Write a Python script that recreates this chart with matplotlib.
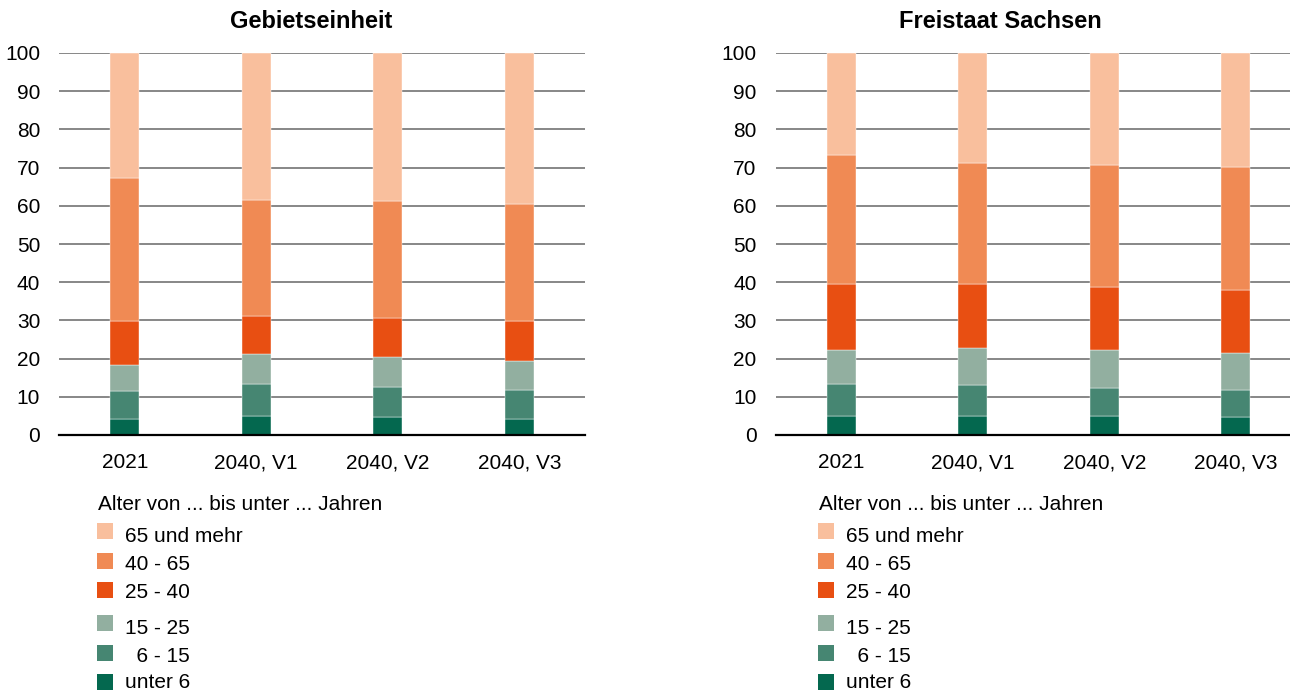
"""
Altersstruktur: Gebietseinheit vs. Freistaat Sachsen (gestapelte Säulen, Prozent)
"""
import matplotlib.pyplot as plt
from matplotlib import rcParams
from matplotlib.patches import Rectangle

rcParams['font.family'] = ['Liberation Sans', 'DejaVu Sans']

# Daten
jahre = ['2021', '2040, V1', '2040, V2', '2040, V3']
gruppen = ['unter 6', '  6 - 15', '15 - 25', '25 - 40', '40 - 65', '65 und mehr']
farben = ['#04684F', '#468672', '#92AFA0', '#E84F12', '#F08A54', '#F9BF9D']

# Gebietseinheit, Anteil in % je Altersgruppe (von unten nach oben)
gebiet_unter6 = [4.3, 4.9, 4.6, 4.3]
gebiet_6_15 = [7.3, 8.4, 8.0, 7.5]
gebiet_15_25 = [6.8, 7.8, 7.7, 7.7]
gebiet_25_40 = [11.4, 10.1, 10.2, 10.3]
gebiet_40_65 = [37.4, 30.4, 30.7, 30.8]
gebiet_65plus = [32.8, 38.4, 38.8, 39.4]

# Freistaat Sachsen
sachsen_unter6 = [5.1, 5.1, 4.9, 4.6]
sachsen_6_15 = [8.3, 7.9, 7.4, 7.1]
sachsen_15_25 = [8.8, 9.9, 9.9, 9.8]
sachsen_25_40 = [17.2, 16.5, 16.5, 16.5]
sachsen_40_65 = [33.8, 31.9, 32.1, 32.2]
sachsen_65plus = [26.8, 28.7, 29.2, 29.8]

y_ticks = list(range(0, 101, 10))

W, H = 1290, 694
FS = 15


def draw_panel(ax, serien):
    """
    eine gestapelte Säulengrafik zeichnen
    """
    x = range(len(jahre))
    bottom = [0] * len(jahre)
    for werte, farbe in zip(serien, farben):
        ax.bar(x, werte, 0.224, bottom=bottom, color=farbe,
               edgecolor='white', linewidth=0.3, zorder=3)
        bottom = [b + w for b, w in zip(bottom, werte)]

    ax.set_xlim(-0.5, len(jahre) - 0.5)
    ax.set_ylim(0, 100)
    ax.set_yticks(y_ticks)
    ax.set_xticks(list(x))
    ax.set_xticklabels(jahre)
    ax.tick_params(axis='both', length=0, labelsize=FS)
    ax.tick_params(axis='y', pad=13.5)
    ax.tick_params(axis='x', pad=13)
    ax.grid(True, axis='y', color='#878787', linewidth=1.4, zorder=1)
    for s in ['top', 'right', 'left']:
        ax.spines[s].set_visible(False)
    ax.spines['bottom'].set_color('black')
    ax.spines['bottom'].set_linewidth(1.6)
    ax.spines['bottom'].set_zorder(4)


def draw_legend(fig, x0):
    """
    Legende manuell (ungleiche Zeilenabstände wie im Original)
    """
    fig.text(x0 / W, 1 - 504 / H, 'Alter von ... bis unter ... Jahren',
             fontsize=FS, va='center', ha='left')
    kaesten = [531, 561, 590, 623, 653, 682]  # Pixel-y der Kästchen
    texte = [536, 565, 593, 628, 656, 683]    # Pixel-y der Beschriftung
    for name, farbe, yk, yt in zip(gruppen[::-1], farben[::-1], kaesten, texte):
        fig.add_artist(Rectangle(((x0 - 1) / W, 1 - (yk + 8) / H), 16 / W, 16 / H,
                                 transform=fig.transFigure, color=farbe, lw=0))
        fig.text((x0 + 27) / W, 1 - yt / H, name,
                 fontsize=FS, va='center', ha='left')


fig = plt.figure(figsize=(W / 100, H / 100), dpi=100)

ax1 = fig.add_axes([59 / W, 1 - 435 / H, 526 / W, 382 / H])
ax2 = fig.add_axes([775.5 / W, 1 - 435 / H, 526 / W, 382 / H])

draw_panel(ax1, [gebiet_unter6, gebiet_6_15, gebiet_15_25,
                 gebiet_25_40, gebiet_40_65, gebiet_65plus])
draw_panel(ax2, [sachsen_unter6, sachsen_6_15, sachsen_15_25,
                 sachsen_25_40, sachsen_40_65, sachsen_65plus])

fig.text(311 / W, 1 - 22 / H, 'Gebietseinheit', fontsize=17,
         fontweight='bold', ha='center', va='center')
fig.text(1000 / W, 1 - 22 / H, 'Freistaat Sachsen', fontsize=17,
         fontweight='bold', ha='center', va='center')

draw_legend(fig, 98)
draw_legend(fig, 819)

plt.savefig('out.png', dpi=100)
plt.close()
